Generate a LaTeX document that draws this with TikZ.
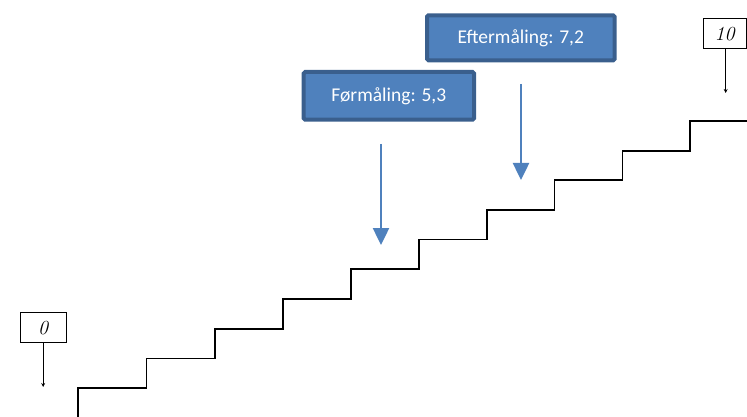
\documentclass[tikz,border=0pt]{standalone}
\usepackage{fontspec}
\newfontfamily\calib{Carlito}
\usetikzlibrary{arrows.meta}
\definecolor{bfill}{HTML}{4F81BD}
\definecolor{bline}{HTML}{3A5F8D}
\begin{document}
\begin{tikzpicture}[x=1pt,y=-1pt,
  bluebox/.style={draw=bline, line width=4pt, fill=bfill, text=white,
    font=\calib\fontsize{19.5}{22}\selectfont, rounded corners=1.5pt, inner sep=0pt},
  valbox/.style={draw=black, line width=0.8pt, fill=white, inner sep=0pt,
    minimum height=30pt, font=\itshape\fontsize{20}{22}\selectfont},
  smallarrow/.style={draw=black, line width=0.8pt, -{Stealth[length=4pt,width=4pt]}},
  bluearrow/.style={draw=bfill, line width=2.5pt, -{Triangle[length=17pt,width=16pt]}},
  stair/.style={draw=black, line width=1.7pt, line join=miter}
]
\useasboundingbox (0,0) rectangle (747,417);

% staircase
\draw[stair] (78,417) -- (78,388) -- (146.5,388) -- (146.5,358.5) -- (215,358.5) -- (215,328.7)
  -- (283.3,328.7) -- (283.3,299) -- (351,299) -- (351,269.3) -- (419,269.3) -- (419,239.5)
  -- (487,239.5) -- (487,209.7) -- (554.5,209.7) -- (554.5,180.3) -- (622.5,180.3) -- (622.5,150.7)
  -- (690,150.7) -- (690,120.7) -- (748,120.7);

% value boxes
\node[valbox, minimum width=45.7pt] (v0) at (43.2,327.7) {0};
\node[valbox, minimum width=42.7pt] (v10) at (724.7,33.7) {10};
\coordinate (v0end) at (43.2,387);
\coordinate (v10end) at (725.7,93);
\draw[smallarrow] (v0.south) -- (v0end);
\draw[smallarrow] (v10.south -| v10end) -- (v10end);

% measurement boxes
\node[bluebox, minimum width=170.3pt, minimum height=47.7pt] (pre) at (388.85,95.85) {Førmåling: 5,3};
\node[bluebox, minimum width=187.7pt, minimum height=45pt] (post) at (520.85,37.8) {Eftermåling: 7,2};

\coordinate (preA) at (381,144);
\coordinate (preB) at (381,245);
\coordinate (postA) at (521,84);
\coordinate (postB) at (521,180);
\draw[bluearrow] (preA) -- (preB);
\draw[bluearrow] (postA) -- (postB);
\end{tikzpicture}
\end{document}
